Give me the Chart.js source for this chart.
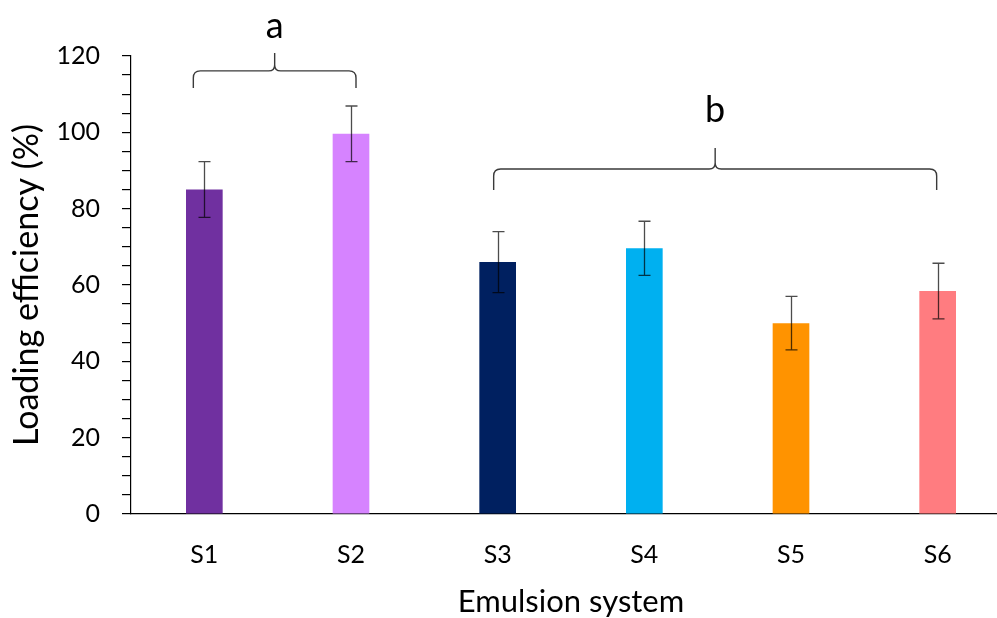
<!DOCTYPE html>
<html>
<head>
<meta charset="utf-8">
<script src="https://cdn.jsdelivr.net/npm/chart.js@4/dist/chart.umd.min.js"></script>
<style>
  html, body { margin: 0; padding: 0; background: #fff; overflow: hidden; }
  #wrap { width: 1012px; height: 618px; position: relative; }
</style>
</head>
<body>
<div id="wrap"><canvas id="chart"></canvas></div>
<script>
// Loading efficiency of the six emulsion systems (mean ± SD)
const categories = ['S1', 'S2', 'S3', 'S4', 'S5', 'S6'];
const loadingEfficiency = [85.0, 99.6, 66.0, 69.6, 50.0, 58.4];
const standardDeviation = [7.3, 7.3, 8.0, 7.1, 7.0, 7.3];
const barColors = ['#7030A0', '#D683FF', '#002060', '#00B0F0', '#FF9300', '#FF7C80'];

// Statistical groups (letters) spanning categories
const groupLetters = ['a', 'b'];
const groupFirst = ['S1', 'S3'];
const groupLast = ['S2', 'S6'];

const FONT = 'Lato, "Open Sans", sans-serif';

// Error bars drawn through the value scale
const errorBarPlugin = {
  id: 'errorBars',
  afterDatasetsDraw(chart) {
    const ctx = chart.ctx;
    const y = chart.scales.y;
    const meta = chart.getDatasetMeta(0);
    ctx.save();
    ctx.strokeStyle = 'rgba(0,0,0,0.7)';
    ctx.lineWidth = 1.3;
    meta.data.forEach((bar, i) => {
      const v = loadingEfficiency[i], sd = standardDeviation[i];
      const top = y.getPixelForValue(v + sd);
      const bot = y.getPixelForValue(v - sd);
      const x = Math.round(bar.x) + 0.5;
      const cap = 6;
      ctx.beginPath();
      ctx.moveTo(x, top); ctx.lineTo(x, bot);
      ctx.moveTo(x - cap, top); ctx.lineTo(x + cap, top);
      ctx.moveTo(x - cap, bot); ctx.lineTo(x + cap, bot);
      ctx.stroke();
    });
    ctx.restore();
  }
};

// Curly braces with significance letters above grouped bars
const bracePlugin = {
  id: 'groupBraces',
  afterDraw(chart, args, opts) {
    const ctx = chart.ctx;
    const xs = chart.scales.x, ys = chart.scales.y;
    ctx.save();
    ctx.strokeStyle = '#3a3a3a';
    ctx.lineWidth = 1.4;
    ctx.fillStyle = '#000';
    ctx.font = '36px ' + FONT;
    ctx.textAlign = 'center';
    ctx.textBaseline = 'alphabetic';
    groupLetters.forEach((letter, g) => {
      const b = opts.braces[g];
      const x1 = xs.getPixelForValue(categories.indexOf(groupFirst[g])) + b.dx1;
      const x2 = xs.getPixelForValue(categories.indexOf(groupLast[g])) + b.dx2;
      const xm = (x1 + x2) / 2;
      const yH = ys.getPixelForValue(b.level);
      const yEnd = ys.getPixelForValue(b.ends);
      const yTip = ys.getPixelForValue(b.tip);
      const r = 7, r2 = 6;
      ctx.beginPath();
      ctx.moveTo(x1, yEnd);
      ctx.lineTo(x1, yH + r);
      ctx.quadraticCurveTo(x1, yH, x1 + r, yH);
      ctx.lineTo(xm - r2, yH);
      ctx.quadraticCurveTo(xm, yH, xm, yH - r2);
      ctx.lineTo(xm, yTip);
      ctx.moveTo(xm, yH - r2);
      ctx.quadraticCurveTo(xm, yH, xm + r2, yH);
      ctx.lineTo(x2 - r, yH);
      ctx.quadraticCurveTo(x2, yH, x2, yH + r);
      ctx.lineTo(x2, yEnd);
      ctx.stroke();
      ctx.fillText(letter, xm, ys.getPixelForValue(b.letter));
    });
    ctx.restore();
  }
};

new Chart(document.getElementById('chart'), {
  type: 'bar',
  data: {
    labels: categories,
    datasets: [{
      data: loadingEfficiency,
      backgroundColor: barColors,
      borderWidth: 0,
      barPercentage: 0.25,
      categoryPercentage: 1.0
    }]
  },
  plugins: [errorBarPlugin, bracePlugin],
  options: {
    responsive: true,
    maintainAspectRatio: false,
    animation: false,
    events: [],
    layout: { padding: { top: 56, right: 1, bottom: 0, left: 0 } },
    plugins: {
      legend: { display: false },
      tooltip: { enabled: false },
      groupBraces: {
        braces: [
          { dx1: -11, dx2: 5, level: 116.1, ends: 111.6, tip: 120.8, letter: 124.6 },
          { dx1: -4, dx2: -1, level: 90.4, ends: 84.9, tip: 95.9, letter: 102.6 }
        ]
      }
    },
    scales: {
      x: {
        grid: { display: false, drawTicks: false },
        border: { display: true, color: '#000', width: 1.2 },
        ticks: { color: '#000', font: { family: FONT, size: 25 }, padding: 26 },
        title: {
          display: true, text: 'Emulsion system', color: '#000',
          font: { family: FONT, size: 31, lineHeight: 1 }, padding: { top: 0, bottom: 1 }
        },
        afterFit(scale) { scale.height = 104; }
      },
      y: {
        min: 0, max: 120,
        ticks: {
          stepSize: 5, autoSkip: false, color: '#000', font: { family: FONT, size: 25 }, padding: 22,
          callback: (v) => (v % 20 === 0 ? v : '')
        },
        grid: { drawOnChartArea: false, drawTicks: true, tickLength: 9, color: '#000', lineWidth: 1.2 },
        border: { display: true, color: '#000', width: 1.2 },
        title: {
          display: true, text: 'Loading efficiency (%)', color: '#000',
          font: { family: FONT, size: 34, lineHeight: 1 }, padding: { top: 10, bottom: 0 }
        },
        afterFit(scale) { scale.width = 131; }
      }
    }
  }
});
</script>
</body>
</html>
